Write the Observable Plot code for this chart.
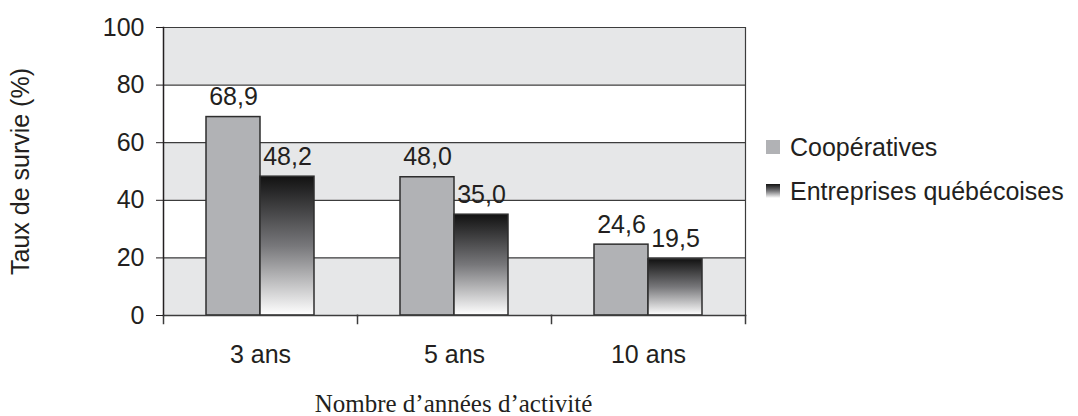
<!DOCTYPE html>
<html>
<head>
<meta charset="utf-8">
<script src="https://cdn.jsdelivr.net/npm/d3@7"></script>
<script src="https://cdn.jsdelivr.net/npm/@observablehq/plot@0.6"></script>
<style>
  html, body { margin: 0; padding: 0; background: #fff; }
  #wrap { position: relative; width: 1078px; height: 416px; overflow: hidden; }
  #xtitle { position: absolute; left: 162px; width: 583px; top: 390px; text-align: center;
            font-family: "Liberation Serif", serif; font-size: 25px; color: #231f20; line-height: 28px; }
  #legend { position: absolute; left: 766px; top: 133px; font-family: "Liberation Sans", Arial, sans-serif;
            font-size: 25px; color: #231f20; }
  .item { display: flex; align-items: center; height: 28px; margin-bottom: 16px; }
  .sw { width: 14px; height: 14px; margin-right: 10px; }
</style>
</head>
<body>
<div id="wrap"></div>
<script>
const categories = ["3 ans", "5 ans", "10 ans"];
const series = ["Coopératives", "Entreprises québécoises"];
const cooperatives = [68.9, 48.0, 24.6];
const entreprises = [48.2, 35.0, 19.5];
const yTicks = [0, 20, 40, 60, 80, 100];
const shadedBands = [[0, 20], [40, 60], [80, 100]];
const xTitle = "Nombre d’années d’activité";
const yTitle = "Taux de survie (%)";

const data = [];
categories.forEach((c, i) => {
  data.push({cat: c, series: series[0], value: cooperatives[i]});
  data.push({cat: c, series: series[1], value: entreprises[i]});
});
const bands = shadedBands.map(([a, b]) => ({y1: a, y2: b}));
const fmt = v => v.toFixed(1).replace(".", ",");
const ink = "#231f20";

const plot = Plot.plot({
  width: 1078,
  height: 416,
  marginLeft: 162,
  marginRight: 333,
  marginTop: 27,
  marginBottom: 101,
  style: {fontFamily: "'Liberation Sans', Arial, sans-serif", fontSize: "25px", color: ink, background: "#fff"},
  fx: {domain: categories, padding: 0},
  x: {domain: series, paddingInner: 0, paddingOuter: 0.768, axis: null},
  y: {domain: [0, 100]},
  color: {domain: series, range: ["#b1b2b5", "url(#gradEnt)"]},
  marks: [
    Plot.rectY(bands, {y1: "y1", y2: "y2", fill: "#e6e7e8"}),
    Plot.ruleY(yTicks.filter(d => d > 0), {stroke: "#3c3c3c", strokeWidth: 1.2}),
    Plot.barY(data, {fx: "cat", x: "series", y: "value", fill: "series", stroke: "#2e2e2e", strokeWidth: 1.5}),
    Plot.text(data, {fx: "cat", x: "series", y: "value", text: d => fmt(d.value), lineAnchor: "bottom", dy: -12, fill: ink, fontSize: 25}),
    Plot.frame({anchor: "bottom", stroke: "#3c3c3c", strokeWidth: 1.5}),
    Plot.frame({anchor: "left", facetAnchor: "left", stroke: ink, strokeWidth: 1.5}),
    Plot.frame({anchor: "right", facetAnchor: "right", stroke: "#3c3c3c", strokeWidth: 1.2}),
    Plot.frame({anchor: "left", insetTop: 288, insetBottom: -8, stroke: "#3c3c3c", strokeWidth: 1.5}),
    Plot.frame({anchor: "right", facetAnchor: "right", insetTop: 288, insetBottom: -8, stroke: "#3c3c3c", strokeWidth: 1.5}),
    Plot.axisY({ticks: yTicks, tickSize: 7, tickPadding: 12, tickFormat: d => d, label: yTitle,
      labelAnchor: "center", labelArrow: "none", labelOffset: 152, stroke: ink, fill: ink, fontSize: 25}),
    Plot.axisFx({anchor: "bottom", tickSize: 0, tickPadding: 30, label: null, fill: ink, fontSize: 25})
  ]
});

d3.select(plot).insert("defs", ":first-child").html(
  `<linearGradient id="gradEnt" x1="0" y1="0" x2="0" y2="1">
     <stop offset="0" stop-color="#121212"/>
     <stop offset="0.5" stop-color="#77777a"/>
     <stop offset="1" stop-color="#ffffff"/>
   </linearGradient>`);

const wrap = document.getElementById("wrap");
wrap.appendChild(plot);

const xt = document.createElement("div");
xt.id = "xtitle";
xt.textContent = xTitle;
wrap.appendChild(xt);

const lg = document.createElement("div");
lg.id = "legend";
const swatchBg = ["#b1b2b5", "linear-gradient(#121212, #77777a, #ffffff)"];
series.forEach((s, i) => {
  const it = document.createElement("div");
  it.className = "item";
  const sw = document.createElement("span");
  sw.className = "sw";
  sw.style.background = swatchBg[i];
  const t = document.createElement("span");
  t.textContent = s;
  it.appendChild(sw);
  it.appendChild(t);
  lg.appendChild(it);
});
wrap.appendChild(lg);
</script>
</body>
</html>
